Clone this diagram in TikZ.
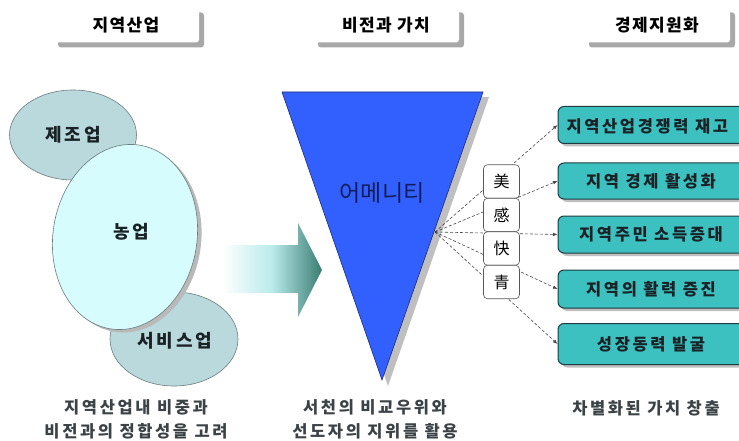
\documentclass[tikz,border=0pt]{standalone}
\usepackage{fontspec}
\setmainfont{Noto Sans CJK KR}[LetterSpace=8]
\newfontfamily\widefont{Noto Sans CJK KR}[LetterSpace=16]
\newfontfamily\plainfont{Noto Sans CJK KR}
\usetikzlibrary{arrows.meta,shadows,shapes.geometric}
\definecolor{hdrshadow}{HTML}{A8A8A8}
\definecolor{ellgray}{HTML}{B9D9DD}
\definecolor{ellcyan}{HTML}{D6FCFE}
\definecolor{ellline}{HTML}{6E7C7E}
\definecolor{arrowteal}{HTML}{3A7C72}
\definecolor{triblue}{HTML}{3160FF}
\definecolor{trinavy}{HTML}{1C2A80}
\definecolor{tealbox}{HTML}{3CC0C0}
\definecolor{tealline}{HTML}{1E3C40}
\definecolor{darktext}{HTML}{1A2226}
\tikzset{
  hdr/.style={fill=white, rounded corners=3pt, minimum width=146pt, minimum height=35pt, inner sep=0pt,
    font=\bfseries\fontsize{17}{20}\selectfont,
    drop shadow={shadow xshift=5pt, shadow yshift=-5pt, fill=hdrshadow, opacity=1}},
  ell/.style={ellipse, draw=ellline, line width=0.6pt, inner sep=0pt},
  elltext/.style={font=\widefont\bfseries\fontsize{18}{21}\selectfont, text=darktext},
  kbox/.style={draw=gray!70!black, fill=white, rounded corners=4pt, line width=0.6pt,
    minimum width=36pt, minimum height=33.5pt, inner sep=0pt, font=\plainfont\fontsize{16}{18}\selectfont},
  rbox/.style={draw=tealline, fill=tealbox, rounded corners=6pt, line width=1pt,
    minimum width=192pt, minimum height=37pt, inner sep=0pt,
    drop shadow={shadow xshift=3pt, shadow yshift=-3pt, fill=gray, opacity=0.5}},
  rtext/.style={font=\widefont\bfseries\fontsize{16.5}{19}\selectfont, text=darktext},
  conn/.style={densely dashed, draw=gray!55!black, line width=0.6pt,
    -{Latex[length=4.5pt,width=3.5pt]}},
  btext/.style={align=center, font=\widefont\bfseries\fontsize{16.5}{24}\selectfont, text=darktext!85!white}
}
\begin{document}
\begin{tikzpicture}[x=1pt,y=-1pt]
\useasboundingbox (0,0) rectangle (739,441);
\clip (0,0) rectangle (739,441);

% headers
\node[hdr] (h1) at (126,25) {지역산업};
\node[hdr] (h2) at (386,25) {비전과 가치};
\node[hdr] (h3) at (657,25) {경제지원화};

% ellipses
\node[ell, fill=ellgray, minimum width=127pt, minimum height=90pt] (e1) at (73,135) {};
\node[elltext] at (e1) {제조업};
\node[ell, fill=ellgray, minimum width=128pt, minimum height=94pt] (e3) at (174,339) {};
\node[elltext] at (175,341) {서비스업};
\fill[gray!55, rotate around={-9:(129,240)}] (129,240) ellipse [x radius=72pt, y radius=93pt];
\node[ell, fill=ellcyan, minimum width=144pt, minimum height=186pt, rotate=-9] (e2) at (125,237) {};
\node[elltext] at (131,232) {농업};

% gradient arrow
\shade[left color=white, right color=arrowteal, middle color=gray!45!cyan!35!white]
  (222,245) -- (298,245) -- (298,223) -- (322,270) -- (298,317) -- (298,293) -- (222,293) -- cycle;

% funnel triangle
\fill[gray!50] (288,97) -- (489,97) -- (388,386) -- cycle;
\filldraw[fill=triblue, draw=trinavy, line width=0.6pt] (282,92) -- (483,92) -- (382,380) -- cycle;
\node[font=\plainfont\fontsize{23}{25}\selectfont, text=trinavy!70!black] (amen) at (382,193) {어메니티};
\coordinate (src) at (435,232);

% right boxes
\node[rbox] (r1) at (654,125) {};
\node[rbox, minimum height=36pt] (r2) at (654,181) {};
\node[rbox] (r3) at (654,234.5) {};
\node[rbox, minimum height=38pt] (r4) at (654,289) {};
\node[rbox, minimum height=41pt] (r5) at (654,344) {};
\node[rtext, anchor=west] at (563,126) {지역산업경쟁력 재고};
\node[rtext] at (651,181) {지역 경제 활성화};
\node[rtext] at (651,234.5) {지역주민 소득증대};
\node[rtext] at (651,289) {지역의 활력 증진};
\node[rtext] at (651,344) {성장동력 발굴};

% connectors
\draw[conn] (src) -- (r1.west);
\draw[conn] (src) -- (r2.west);
\draw[conn] (src) -- (r3.west);
\draw[conn] (src) -- (r4.west);
\draw[conn] (src) -- (r5.west);

% kanji boxes
\node[kbox] (k1) at (501.5,181.5) {美};
\node[kbox] (k2) at (501.5,215) {感};
\node[kbox] (k3) at (501.5,248.5) {快};
\node[kbox] (k4) at (501.5,282) {青};

% bottom texts
\node[btext] (b1) at (136,419) {지역산업내 비중과\\비전과의 정합성을 고려};
\node[btext] (b2) at (375,419) {서천의 비교우위와\\선도자의 지위를 활용};
\node[btext] (b3) at (646,408) {차별화된 가치 창출};
\end{tikzpicture}
\end{document}
